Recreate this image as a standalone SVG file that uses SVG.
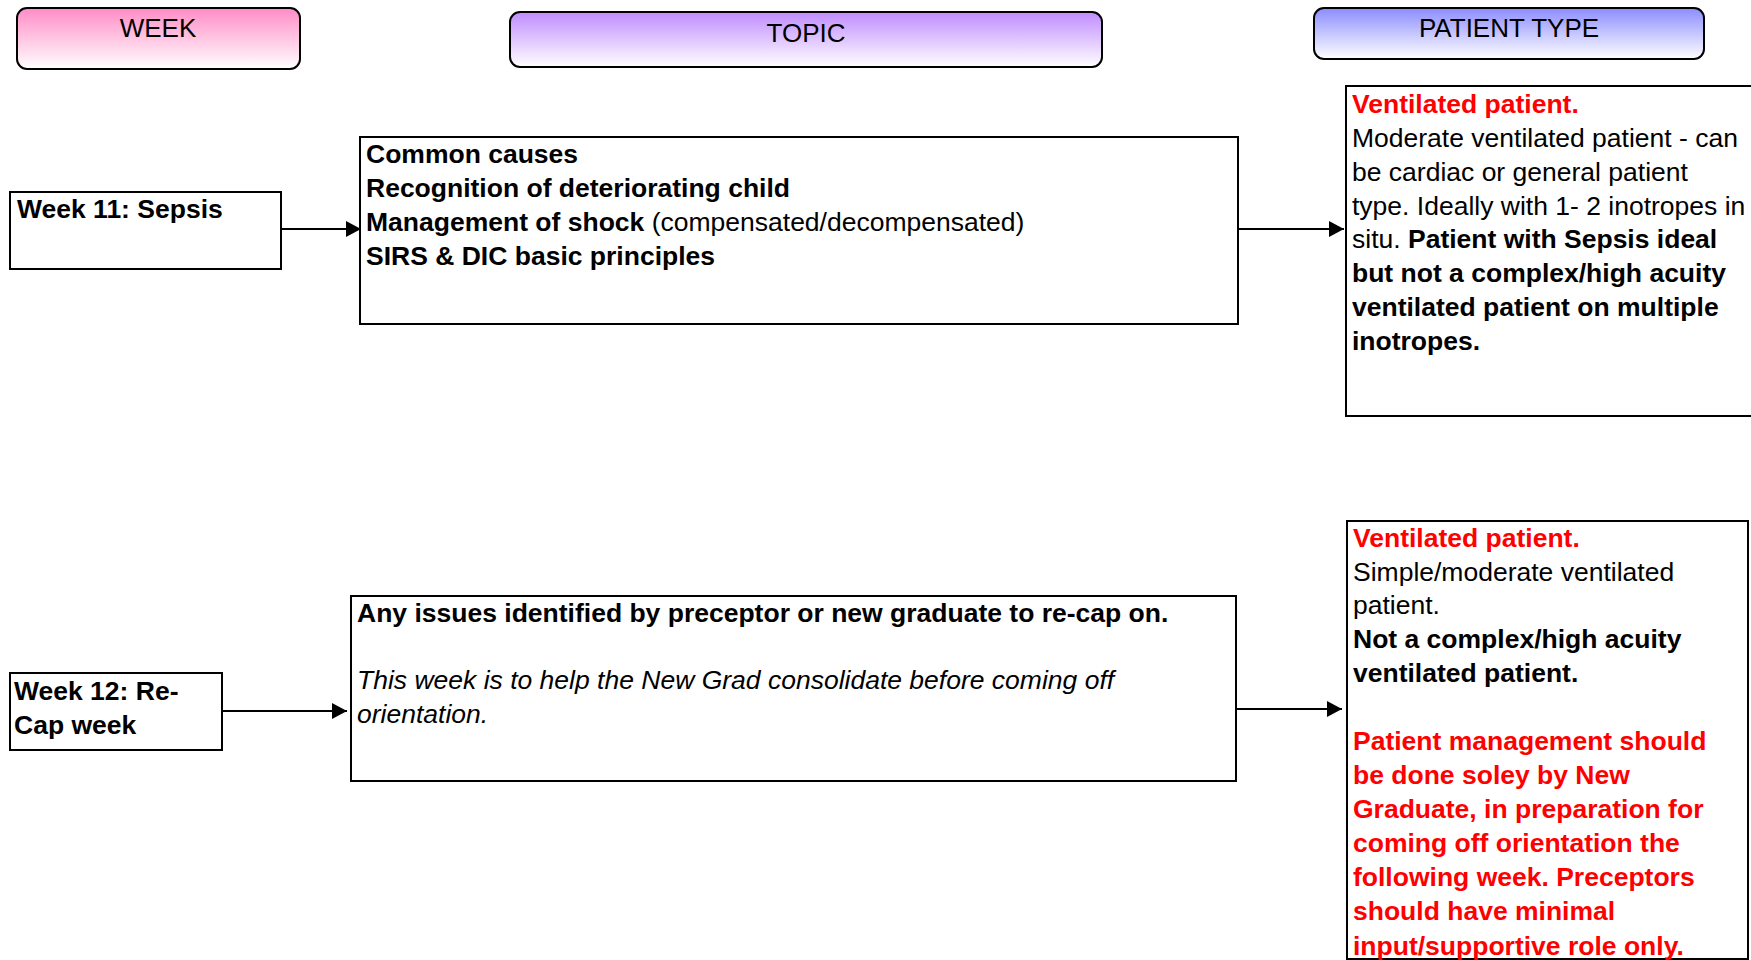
<svg xmlns="http://www.w3.org/2000/svg" width="1751" height="960" viewBox="0 0 1751 960">
<style>
text{font-family:"Liberation Sans",Arial,sans-serif;font-size:26.5px;fill:#000}
.hdr{text-anchor:middle;font-size:26px}
.box{fill:#fff;stroke:#000;stroke-width:2}
.hbox{stroke:#000;stroke-width:2}
.b{font-weight:bold}
.i{font-style:italic}
.red{fill:#ff0000;font-weight:bold}
.conn{stroke:#000;stroke-width:2;fill:none;marker-end:url(#ah)}
</style>
<defs>
<linearGradient id="gPink" x1="0" y1="0" x2="0" y2="1"><stop offset="0" stop-color="#ff8cc6"/><stop offset="1" stop-color="#ffffff"/></linearGradient>
<linearGradient id="gPurple" x1="0" y1="0" x2="0" y2="1"><stop offset="0" stop-color="#c08cff"/><stop offset="1" stop-color="#ffffff"/></linearGradient>
<linearGradient id="gBlue" x1="0" y1="0" x2="0" y2="1"><stop offset="0" stop-color="#8c8cff"/><stop offset="1" stop-color="#ffffff"/></linearGradient>
<marker id="ah" markerWidth="8" markerHeight="8" refX="7.5" refY="4" orient="auto" markerUnits="strokeWidth"><path d="M0,0 L7.5,4 L0,8 Z" fill="#000"/></marker>
</defs>
<rect width="1751" height="960" fill="#fff"/>

<g id="hdr-week"><rect class="hbox" x="17" y="8" width="283" height="61" rx="10" fill="url(#gPink)"/><text class="hdr" x="158" y="37">WEEK</text></g>
<g id="hdr-topic"><rect class="hbox" x="510" y="12" width="592" height="55" rx="10" fill="url(#gPurple)"/><text class="hdr" x="806" y="42">TOPIC</text></g>
<g id="hdr-patient"><rect class="hbox" x="1314" y="8" width="390" height="51" rx="10" fill="url(#gBlue)"/><text class="hdr" x="1509" y="37">PATIENT TYPE</text></g>

<g id="week11"><rect class="box" x="10" y="192" width="271" height="77"/><text class="b" x="17" y="218">Week 11: Sepsis</text></g>

<g id="topic1"><rect class="box" x="360" y="137" width="878" height="187"/>
<text x="366" y="163" class="b">Common causes</text>
<text x="366" y="197" class="b">Recognition of deteriorating child</text>
<text x="366" y="231"><tspan class="b">Management of shock</tspan> (compensated/decompensated)</text>
<text x="366" y="265" class="b">SIRS &amp; DIC basic principles</text>
</g>

<g id="patient1"><rect class="box" x="1346" y="86" width="420" height="330"/>
<text x="1352" y="113" class="red">Ventilated patient.</text>
<text x="1352" y="147">Moderate ventilated patient - can</text>
<text x="1352" y="181">be cardiac or general patient</text>
<text x="1352" y="215">type. Ideally with 1- 2 inotropes in</text>
<text x="1352" y="248">situ. <tspan class="b">Patient with Sepsis ideal</tspan></text>
<text x="1352" y="282" class="b">but not a complex/high acuity</text>
<text x="1352" y="316" class="b">ventilated patient on multiple</text>
<text x="1352" y="350" class="b">inotropes.</text>
</g>

<g id="week12"><rect class="box" x="10" y="673" width="212" height="77"/>
<text class="b" x="14" y="700">Week 12: Re-</text>
<text class="b" x="14" y="734">Cap week</text>
</g>

<g id="topic2"><rect class="box" x="351" y="596" width="885" height="185"/>
<text x="357" y="622" class="b">Any issues identified by preceptor or new graduate to re-cap on.</text>
<text x="357" y="689" class="i">This week is to help the New Grad consolidate before coming off</text>
<text x="357" y="723" class="i">orientation.</text>
</g>

<g id="patient2"><rect class="box" x="1347" y="521" width="401" height="438"/>
<text x="1353" y="547" class="red">Ventilated patient.</text>
<text x="1353" y="581">Simple/moderate ventilated</text>
<text x="1353" y="614">patient.</text>
<text x="1353" y="648" class="b">Not a complex/high acuity</text>
<text x="1353" y="682" class="b">ventilated patient.</text>
<text x="1353" y="750" class="red">Patient management should</text>
<text x="1353" y="784" class="red">be done soley by New</text>
<text x="1353" y="818" class="red">Graduate, in preparation for</text>
<text x="1353" y="852" class="red">coming off orientation the</text>
<text x="1353" y="886" class="red">following week. Preceptors</text>
<text x="1353" y="920" class="red">should have minimal</text>
<text x="1353" y="955" class="red">input/supportive role only.</text>
</g>

<g id="connectors">
<line class="conn" x1="281" y1="229" x2="361" y2="229"/>
<line class="conn" x1="1238" y1="229" x2="1344" y2="229"/>
<line class="conn" x1="222" y1="711" x2="347" y2="711"/>
<line class="conn" x1="1236" y1="709" x2="1342" y2="709"/>
</g>
</svg>
